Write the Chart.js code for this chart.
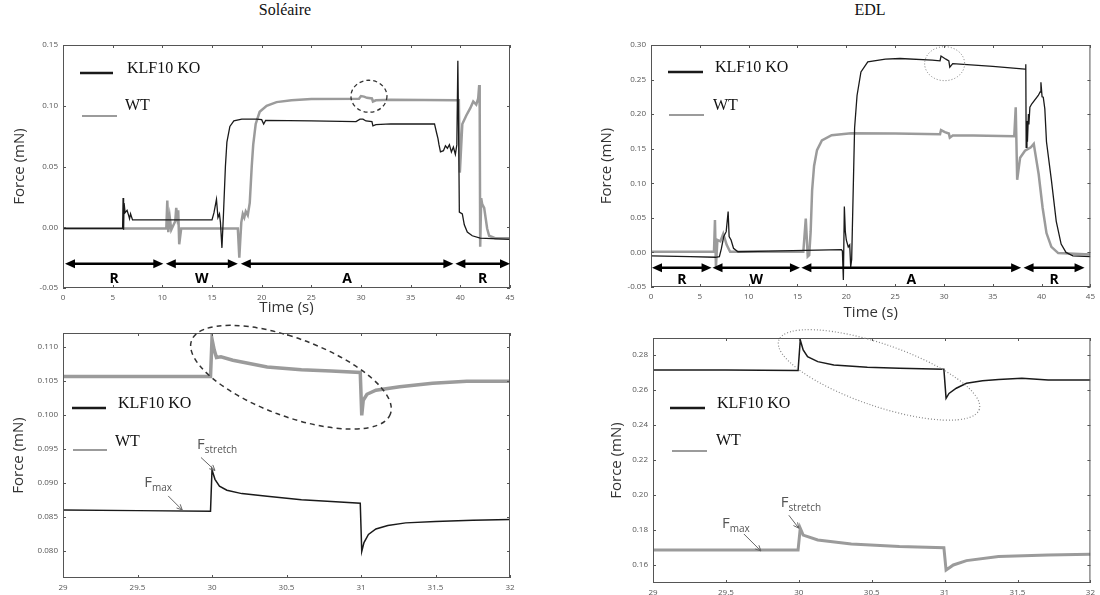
<!DOCTYPE html>
<html lang="fr">
<head>
<meta charset="UTF-8">
<title>Force - Soléaire / EDL</title>
<style>
  body { margin: 0; width: 1100px; height: 595px; background: #fff; position: relative; overflow: hidden; }
  .panel { position: absolute; }
  .titre { position: absolute; top: 1px; font-family: "Liberation Serif", serif; font-size: 16px; color: #111; transform: translateX(-50%); }
</style>
</head>
<body>
<div class="titre" style="left:285px">Soléaire</div>
<div class="titre" style="left:870px">EDL</div>
<div class="panel" style="left:0;top:30px;width:520px;height:300px"><canvas id="soleTop"></canvas></div>
<div class="panel" style="left:570px;top:30px;width:530px;height:300px"><canvas id="edlTop"></canvas></div>
<div class="panel" style="left:0;top:320px;width:530px;height:275px"><canvas id="soleZoom"></canvas></div>
<div class="panel" style="left:570px;top:320px;width:530px;height:275px"><canvas id="edlZoom"></canvas></div>

<script src="https://cdn.jsdelivr.net/npm/chart.js@4.4.1/dist/chart.umd.min.js"></script>
<script>
// ---- données ----
const seriesNames = ['KLF10 KO', 'WT'];

// Soléaire, enregistrement complet
const soleKoTime  = [0, 5.9, 6.0, 6.05, 6.1, 6.15, 6.25, 6.45, 6.6, 6.7, 6.8, 7.0, 15.0, 15.2, 15.45, 15.6, 15.75, 15.85, 16.0, 16.15, 16.35, 16.5, 16.8, 17.2, 18, 19.5, 20.0, 20.2, 20.4, 25, 29.5, 29.9, 30.2, 30.5, 31.1, 31.2, 31.5, 33, 37.4, 37.6, 37.75, 37.85, 38.0, 38.3, 38.5, 38.7, 38.9, 39.1, 39.3, 39.5, 39.65, 39.75, 39.85, 39.9, 40.2, 40.4, 40.7, 41.2, 42, 45];
const soleKoForce = [-0.001, -0.001, -0.001, 0.024, -0.002, 0.020, 0.012, 0.014, 0.010, 0.007, 0.011, 0.006, 0.006, 0.012, 0.023, 0.008, 0.011, 0.004, -0.017, 0.010, 0.050, 0.070, 0.083, 0.0875, 0.089, 0.089, 0.0885, 0.085, 0.088, 0.0875, 0.087, 0.089, 0.089, 0.0875, 0.087, 0.0835, 0.0845, 0.085, 0.085, 0.078, 0.073, 0.068, 0.062, 0.063, 0.067, 0.065, 0.068, 0.062, 0.066, 0.060, 0.068, 0.137, 0.060, 0.0125, 0.011, 0.002, -0.004, -0.007, -0.009, -0.010];
const soleWtTime  = [0, 10.4, 10.5, 10.6, 10.75, 10.9, 11.3, 11.4, 11.5, 11.6, 11.7, 11.9, 17.6, 17.75, 17.85, 17.95, 18.1, 18.25, 18.4, 18.6, 18.8, 19.0, 19.15, 19.4, 19.8, 20.5, 21.5, 23, 25, 29.8, 30.0, 30.3, 30.6, 31.1, 31.2, 31.5, 33, 39.7, 39.85, 39.95, 40.2, 40.6, 41.0, 41.3, 41.6, 41.8, 41.9, 41.95, 42.0, 42.1, 42.2, 42.4, 42.7, 42.9, 43.5, 45];
const soleWtForce = [-0.001, -0.001, 0.022, -0.004, 0.008, -0.002, 0.005, 0.016, 0.009, 0.014, -0.014, -0.001, -0.001, -0.025, -0.010, 0.004, 0.011, 0.008, 0.013, 0.010, 0.020, 0.050, 0.068, 0.085, 0.095, 0.100, 0.103, 0.1045, 0.1055, 0.1058, 0.108, 0.1075, 0.1065, 0.106, 0.1035, 0.1045, 0.105, 0.1045, 0.1045, 0.045, 0.085, 0.092, 0.098, 0.1035, 0.101, 0.106, 0.117, 0.097, -0.016, 0.024, 0.019, 0.016, -0.001, -0.007, -0.009, -0.009];

// EDL, enregistrement complet
const edlKoTime  = [0, 4, 6.6, 7.0, 7.2, 7.45, 7.7, 7.9, 8.0, 8.2, 8.45, 8.9, 12, 19.5, 19.6, 19.7, 19.8, 19.9, 20.0, 20.2, 20.35, 20.45, 20.55, 20.85, 21.1, 21.5, 22.2, 24, 25.5, 28.8, 29.6, 29.7, 30.2, 30.5, 30.6, 30.9, 35, 38.3, 38.38, 38.42, 38.5, 38.55, 38.65, 38.7, 38.8, 39.0, 39.66, 39.85, 39.93, 40.05, 40.17, 40.33, 40.5, 41.0, 41.5, 42.0, 42.5, 43.2, 45];
const edlKoForce = [-0.005, -0.006, -0.007, -0.006, 0.005, 0.023, 0.030, 0.059, 0.023, 0.018, 0.006, 0.001, 0.002, 0.004, 0.002, -0.040, 0.0665, 0.030, 0.018, 0.008, 0.011, -0.021, -0.010, 0.180, 0.227, 0.261, 0.2757, 0.2795, 0.2805, 0.278, 0.277, 0.284, 0.2795, 0.277, 0.268, 0.273, 0.269, 0.265, 0.272, 0.152, 0.190, 0.160, 0.200, 0.185, 0.210, 0.215, 0.227, 0.232, 0.246, 0.225, 0.2245, 0.2076, 0.160, 0.105, 0.045, 0.012, 0.000, -0.005, -0.006];
const edlWtTime  = [0, 6.45, 6.55, 6.65, 6.8, 7.1, 7.4, 7.75, 8.1, 15.6, 15.85, 16.05, 16.2, 16.35, 16.5, 16.7, 17.0, 17.5, 18.5, 20.5, 25, 29.6, 29.7, 30.1, 30.5, 30.6, 30.9, 33, 37.2, 37.35, 37.5, 37.8, 38.3, 38.9, 39.2, 39.3, 39.7, 40.1, 40.5, 41.0, 41.7, 45];
const edlWtForce = [0.001, 0.001, 0.047, -0.021, 0.018, 0.016, 0.027, 0.011, 0.001, 0.001, 0.049, -0.006, -0.004, 0.030, 0.090, 0.125, 0.148, 0.162, 0.1695, 0.1725, 0.172, 0.171, 0.177, 0.174, 0.172, 0.166, 0.169, 0.169, 0.168, 0.210, 0.105, 0.137, 0.147, 0.152, 0.157, 0.148, 0.113, 0.065, 0.028, 0.008, -0.001, -0.003];

// Soléaire, agrandissement 29-32 s
const soleZoomKoTime  = [29, 29.5, 29.99, 30.0, 30.02, 30.05, 30.1, 30.2, 30.37, 30.6, 30.83, 30.995, 31.005, 31.02, 31.05, 31.1, 31.18, 31.3, 31.5, 31.75, 32];
const soleZoomKoForce = [0.0860, 0.0859, 0.0858, 0.0919, 0.0905, 0.0895, 0.0889, 0.0884, 0.0880, 0.0875, 0.0872, 0.0870, 0.0799, 0.0812, 0.0824, 0.0832, 0.0837, 0.0841, 0.0843, 0.0845, 0.0846];
const soleZoomWtTime  = [29, 29.5, 29.99, 30.0, 30.015, 30.03, 30.06, 30.14, 30.37, 30.6, 30.8, 30.995, 31.005, 31.015, 31.04, 31.1, 31.26, 31.48, 31.71, 32];
const soleZoomWtForce = [0.1056, 0.1056, 0.1056, 0.1111, 0.1095, 0.1084, 0.1085, 0.1080, 0.1070, 0.1066, 0.1064, 0.1062, 0.0999, 0.1021, 0.1030, 0.1036, 0.1041, 0.1046, 0.1049, 0.1049];

// EDL, agrandissement 29-32 s
const edlZoomKoTime  = [29, 29.5, 29.995, 30.01, 30.03, 30.06, 30.13, 30.24, 30.47, 30.69, 30.995, 31.01, 31.03, 31.08, 31.15, 31.26, 31.37, 31.53, 31.71, 32];
const edlZoomKoForce = [0.2714, 0.2714, 0.2712, 0.2886, 0.2829, 0.2790, 0.2762, 0.2743, 0.2730, 0.2724, 0.2718, 0.2552, 0.2580, 0.2610, 0.2638, 0.2653, 0.2660, 0.2667, 0.2657, 0.2657];
const edlZoomWtTime  = [29, 29.5, 29.995, 30.01, 30.03, 30.13, 30.36, 30.69, 30.995, 31.01, 31.06, 31.15, 31.37, 31.71, 32];
const edlZoomWtForce = [0.1686, 0.1686, 0.1686, 0.1810, 0.1771, 0.1743, 0.1720, 0.1705, 0.1699, 0.1571, 0.1600, 0.1625, 0.1648, 0.1657, 0.1661];

// phases R / W / A / R
const phaseLabels     = ['R', 'W', 'A', 'R'];
const solePhaseStart  = [0.2, 10.35, 17.9, 39.5];
const solePhaseEnd    = [10.1, 17.6, 39.3, 45.0];
const edlPhaseStart   = [0.1, 6.3, 15.4, 38.15];
const edlPhaseEnd     = [6.2, 15.25, 37.9, 44.4];

// graduations
const fullTimeTicks  = [0, 5, 10, 15, 20, 25, 30, 35, 40, 45];
const zoomTimeTicks  = [29, 29.5, 30, 30.5, 31, 31.5, 32];
const soleTopForceTicks  = [-0.05, 0, 0.05, 0.10, 0.15];
const edlTopForceTicks   = [-0.05, 0, 0.05, 0.10, 0.15, 0.20, 0.25, 0.30];
const soleZoomForceTicks = [0.080, 0.085, 0.090, 0.095, 0.100, 0.105, 0.110];
const edlZoomForceTicks  = [0.16, 0.18, 0.20, 0.22, 0.24, 0.26, 0.28];

// ---- dessin ----
const KO_COLOR = '#1a1a1a';
const WT_COLOR = '#9b9b9b';

function pts(xs, ys) {
  return xs.map((x, i) => ({ x: x, y: ys[i] }));
}

function arrowHead(ctx, x, y, dir) {
  ctx.beginPath();
  ctx.moveTo(x, y);
  ctx.lineTo(x - dir * 10, y - 4.5);
  ctx.lineTo(x - dir * 10, y + 4.5);
  ctx.closePath();
  ctx.fill();
}

function makeDecor(cfg) {
  return {
    id: 'decor',
    afterDatasetsDraw(chart) {
      const ctx = chart.ctx, a = chart.chartArea, sx = chart.scales.x, sy = chart.scales.y;
      ctx.save();

      // cadre et petites graduations vers l'intérieur
      ctx.strokeStyle = '#555';
      ctx.lineWidth = 1;
      ctx.strokeRect(a.left + 0.5, a.top + 0.5, a.right - a.left - 1, a.bottom - a.top - 1);
      ctx.beginPath();
      sx.ticks.forEach(t => {
        const px = Math.round(sx.getPixelForValue(t.value)) + 0.5;
        ctx.moveTo(px, a.bottom); ctx.lineTo(px, a.bottom - 3);
        ctx.moveTo(px, a.top); ctx.lineTo(px, a.top + 3);
      });
      sy.ticks.forEach(t => {
        const py = Math.round(sy.getPixelForValue(t.value)) + 0.5;
        ctx.moveTo(a.left, py); ctx.lineTo(a.left + 3, py);
        ctx.moveTo(a.right, py); ctx.lineTo(a.right - 3, py);
      });
      ctx.stroke();

      // flèches des phases
      if (cfg.phases) {
        const ph = cfg.phases;
        const py = sy.getPixelForValue(ph.y);
        const ly = sy.getPixelForValue(ph.labelY);
        ctx.strokeStyle = '#000';
        ctx.fillStyle = '#000';
        ctx.lineWidth = 2.5;
        phaseLabels.forEach((lab, i) => {
          const x0 = sx.getPixelForValue(ph.start[i]);
          const x1 = sx.getPixelForValue(ph.end[i]);
          ctx.beginPath();
          ctx.moveTo(x0 + 6, py); ctx.lineTo(x1 - 6, py);
          ctx.stroke();
          arrowHead(ctx, x0, py, -1);
          arrowHead(ctx, x1, py, 1);
          ctx.font = 'bold 14px "Open Sans"';
          ctx.textAlign = 'center';
          ctx.textBaseline = 'middle';
          ctx.fillText(lab, (x0 + x1) / 2, ly);
        });
      }

      // ellipses en pointillé
      const e = cfg.ellipse;
      ctx.strokeStyle = e.color;
      ctx.lineWidth = e.width;
      ctx.setLineDash(e.dash);
      ctx.beginPath();
      ctx.ellipse(sx.getPixelForValue(e.x), sy.getPixelForValue(e.y), e.rx, e.ry, e.rot * Math.PI / 180, 0, 2 * Math.PI);
      ctx.stroke();
      ctx.setLineDash([]);

      // annotations Fmax / Fstretch
      (cfg.notes || []).forEach(n => {
        const tx = sx.getPixelForValue(n.x), ty = sy.getPixelForValue(n.y);
        ctx.strokeStyle = '#666';
        ctx.lineWidth = 1;
        ctx.beginPath();
        ctx.moveTo(tx + n.dx, ty + n.dy); ctx.lineTo(tx, ty);
        const ang = Math.atan2(-n.dy, -n.dx);
        ctx.moveTo(tx - 6 * Math.cos(ang - 0.45), ty - 6 * Math.sin(ang - 0.45));
        ctx.lineTo(tx, ty);
        ctx.lineTo(tx - 6 * Math.cos(ang + 0.45), ty - 6 * Math.sin(ang + 0.45));
        ctx.stroke();
        ctx.fillStyle = '#555';
        ctx.textAlign = 'left';
        ctx.textBaseline = 'alphabetic';
        ctx.font = '15px "Open Sans"';
        ctx.fillText('F', tx + n.tx, ty + n.ty);
        const w = ctx.measureText('F').width;
        ctx.font = '10px "Open Sans"';
        ctx.fillText(n.sub, tx + n.tx + w, ty + n.ty + 4);
      });

      // légende
      const lg = cfg.legend;
      const colors = [KO_COLOR, WT_COLOR];
      const widths = [2.5, 2];
      seriesNames.forEach((name, i) => {
        const row = lg[i];
        ctx.strokeStyle = colors[i];
        ctx.lineWidth = widths[i];
        ctx.beginPath();
        ctx.moveTo(row.x0, row.ly); ctx.lineTo(row.x1, row.ly);
        ctx.stroke();
        ctx.fillStyle = '#111';
        ctx.font = '16px "Liberation Serif"';
        ctx.textAlign = 'left';
        ctx.textBaseline = 'middle';
        ctx.fillText(name, row.tx, row.ty);
      });

      ctx.restore();
    }
  };
}

function panel(id, cfg) {
  const tickFont = { family: 'Open Sans', size: 8 };
  const titleFont = { family: 'Open Sans', size: 15 };
  new Chart(document.getElementById(id), {
    type: 'line',
    data: {
      datasets: [
        { label: seriesNames[0], data: pts(cfg.koX, cfg.koY), borderColor: KO_COLOR, borderWidth: cfg.koW, pointRadius: 0, tension: 0 },
        { label: seriesNames[1], data: pts(cfg.wtX, cfg.wtY), borderColor: WT_COLOR, borderWidth: cfg.wtW, pointRadius: 0, tension: 0 }
      ]
    },
    options: {
      responsive: true,
      maintainAspectRatio: false,
      animation: false,
      events: [],
      layout: { padding: { top: cfg.padTop, right: cfg.padRight, left: 0, bottom: 0 } },
      plugins: { legend: { display: false }, tooltip: { enabled: false } },
      scales: {
        x: {
          type: 'linear',
          min: cfg.xMin, max: cfg.xMax,
          grid: { display: false, drawTicks: false },
          border: { display: false },
          afterBuildTicks: s => { s.ticks = cfg.xTicks.map(v => ({ value: v })); },
          afterFit: s => { s.height = cfg.xAxisH; },
          ticks: { padding: 5, color: '#555', font: tickFont, maxRotation: 0, autoSkip: false, callback: v => String(v) },
          title: { display: !!cfg.xTitle, text: 'Time (s)', color: '#333', font: titleFont, padding: { top: 0, bottom: cfg.xTitlePad } }
        },
        y: {
          min: cfg.yMin, max: cfg.yMax,
          grid: { display: false, drawTicks: false },
          border: { display: false },
          afterBuildTicks: s => { s.ticks = cfg.yTicks.map(v => ({ value: v })); },
          afterFit: s => { s.width = cfg.yAxisW; },
          ticks: { padding: 5, color: '#555', font: tickFont, autoSkip: false, callback: v => v.toFixed(cfg.yDigits) },
          title: { display: true, text: 'Force (mN)', color: '#333', font: titleFont, padding: { top: cfg.yTitlePad, bottom: 0 } }
        }
      }
    },
    plugins: [makeDecor(cfg)]
  });
}

panel('soleTop', {
  koX: soleKoTime, koY: soleKoForce, wtX: soleWtTime, wtY: soleWtForce, koW: 1.3, wtW: 2.5,
  xMin: 0, xMax: 45, yMin: -0.05, yMax: 0.15, xTicks: fullTimeTicks, yTicks: soleTopForceTicks, yDigits: 2,
  padTop: 15, padRight: 10, xAxisH: 42, yAxisW: 63, xTitle: true, xTitlePad: 13, yTitlePad: 11,
  phases: { start: solePhaseStart, end: solePhaseEnd, y: -0.030, labelY: -0.043 },
  ellipse: { x: 30.8, y: 0.1078, rx: 18, ry: 16, rot: 0, dash: [4, 3], color: '#333', width: 1.3 },
  legend: [{ x0: 80, x1: 113, ly: 43, tx: 127, ty: 39 }, { x0: 82, x1: 117, ly: 86, tx: 125, ty: 76 }]
});

panel('edlTop', {
  koX: edlKoTime, koY: edlKoForce, wtX: edlWtTime, wtY: edlWtForce, koW: 1.3, wtW: 2.5,
  xMin: 0, xMax: 45, yMin: -0.05, yMax: 0.30, xTicks: fullTimeTicks, yTicks: edlTopForceTicks, yDigits: 2,
  padTop: 15, padRight: 4, xAxisH: 43, yAxisW: 81, xTitle: true, xTitlePad: 8, yTitlePad: 28,
  phases: { start: edlPhaseStart, end: edlPhaseEnd, y: -0.022, labelY: -0.040 },
  ellipse: { x: 30.07, y: 0.273, rx: 20, ry: 17, rot: 0, dash: [1, 2], color: '#777', width: 1 },
  legend: [{ x0: 98, x1: 133, ly: 42, tx: 145, ty: 38 }, { x0: 99, x1: 134, ly: 85, tx: 143, ty: 76 }]
});

panel('soleZoom', {
  koX: soleZoomKoTime, koY: soleZoomKoForce, wtX: soleZoomWtTime, wtY: soleZoomWtForce, koW: 1.5, wtW: 3.5,
  xMin: 29, xMax: 32, yMin: 0.076, yMax: 0.112, xTicks: zoomTimeTicks, yTicks: soleZoomForceTicks, yDigits: 3,
  padTop: 13, padRight: 20, xAxisH: 17, yAxisW: 63, xTitle: false, xTitlePad: 0, yTitlePad: 10,
  ellipse: { x: 30.53, y: 0.1055, rx: 106, ry: 39, rot: 20.3, dash: [5, 4], color: '#333', width: 1.5 },
  notes: [
    { x: 29.8, y: 0.086, dx: -14, dy: -14, tx: -38, ty: -23, sub: 'max' },
    { x: 30.02, y: 0.0918, dx: -14, dy: -13, tx: -18, ty: -21, sub: 'stretch' }
  ],
  legend: [{ x0: 72, x1: 106, ly: 88, tx: 118, ty: 84 }, { x0: 73, x1: 107, ly: 130, tx: 115, ty: 122 }]
});

panel('edlZoom', {
  koX: edlZoomKoTime, koY: edlZoomKoForce, wtX: edlZoomWtTime, wtY: edlZoomWtForce, koW: 1.5, wtW: 3,
  xMin: 29, xMax: 32, yMin: 0.1497, yMax: 0.2897, xTicks: zoomTimeTicks, yTicks: edlZoomForceTicks, yDigits: 2,
  padTop: 18, padRight: 4, xAxisH: 12, yAxisW: 83, xTitle: false, xTitlePad: 0, yTitlePad: 38,
  ellipse: { x: 30.55, y: 0.2686, rx: 106, ry: 31, rot: 19, dash: [1, 2], color: '#888', width: 1.2 },
  notes: [
    { x: 29.74, y: 0.168, dx: -17, dy: -17, tx: -39, ty: -23, sub: 'max' },
    { x: 30.0, y: 0.181, dx: -10, dy: -13, tx: -18, ty: -21, sub: 'stretch' }
  ],
  legend: [{ x0: 100, x1: 135, ly: 88, tx: 147, ty: 84 }, { x0: 102, x1: 137, ly: 131, tx: 146, ty: 121 }]
});
</script>
</body>
</html>
